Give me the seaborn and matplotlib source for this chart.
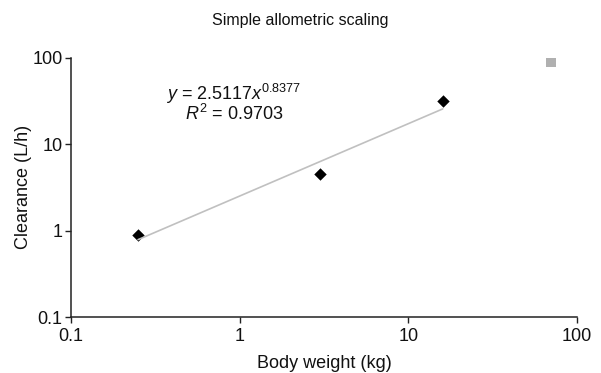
import numpy as np
import pandas as pd
import matplotlib
matplotlib.use("Agg")
import matplotlib.pyplot as plt
import seaborn as sns

# Data
body_weight = [0.25, 3.0, 16.0]
clearance = [0.9, 4.5, 32.0]
human_weight = [70.0]
human_clearance = [90.0]
coef_a = 2.5117
coef_b = 0.8377
r2 = 0.9703
x_ticks = [0.1, 1, 10, 100]
x_tick_labels = ["0.1", "1", "10", "100"]
y_ticks = [0.1, 1, 10, 100]
y_tick_labels = ["0.1", "1", "10", "100"]

sns.set_theme(style="ticks")
plt.rcParams['font.family'] = ['Liberation Sans', 'DejaVu Sans']
plt.rcParams['mathtext.fontset'] = 'custom'
plt.rcParams['mathtext.rm'] = 'Liberation Sans'
plt.rcParams['mathtext.it'] = 'Liberation Sans:italic'

fig = plt.figure(figsize=(6.01, 3.73), dpi=100)
ax = fig.add_axes([0.118, 0.150, 0.842, 0.695])

df = pd.DataFrame({"w": body_weight, "cl": clearance})
fit_x = np.array([min(body_weight), max(body_weight)])
fit_df = pd.DataFrame({"w": fit_x, "cl": coef_a * fit_x ** coef_b})

sns.lineplot(data=fit_df, x="w", y="cl", ax=ax, color="#c0c0c0", linewidth=1.2)
sns.scatterplot(data=df, x="w", y="cl", ax=ax, marker="D", s=40, color="black",
                edgecolor="black", linewidth=0)
sns.scatterplot(x=human_weight, y=human_clearance, ax=ax, marker="s", s=60,
                color="#b0b0b0", edgecolor="#b0b0b0", linewidth=0)

ax.set_xscale("log")
ax.set_yscale("log")
ax.set_xlim(0.1, 100)
ax.set_ylim(0.1, 100)
ax.set_xticks(x_ticks)
ax.set_xticklabels(x_tick_labels)
ax.set_yticks(y_ticks)
ax.set_yticklabels(y_tick_labels)
ax.minorticks_off()
ax.tick_params(axis="both", which="major", labelsize=13, length=4, width=1,
               color="#222222", labelcolor="#111111", pad=2)
ax.tick_params(axis="x", pad=4)
for s in ["top", "right"]:
    ax.spines[s].set_visible(False)
for s in ["left", "bottom"]:
    ax.spines[s].set_color("#222222")
    ax.spines[s].set_linewidth(1.1)

ax.set_xlabel("Body weight (kg)", fontsize=13, color="#111111", labelpad=7)
ax.set_ylabel("Clearance (L/h)", fontsize=13, color="#111111", labelpad=0)
fig.suptitle("Simple allometric scaling", fontsize=11.5, color="#111111", y=0.965)

ax.text(0.322, 0.862, r"$\mathit{y}$ = %.4f$\mathit{x}^{%.4f}$" % (coef_a, coef_b),
        transform=ax.transAxes, ha="center", va="center", fontsize=13, color="#111111")
ax.text(0.322, 0.783, r"$\mathit{R}^{2}$ = %.4f" % r2,
        transform=ax.transAxes, ha="center", va="center", fontsize=13, color="#111111")

fig.savefig("out.png", dpi=100)
